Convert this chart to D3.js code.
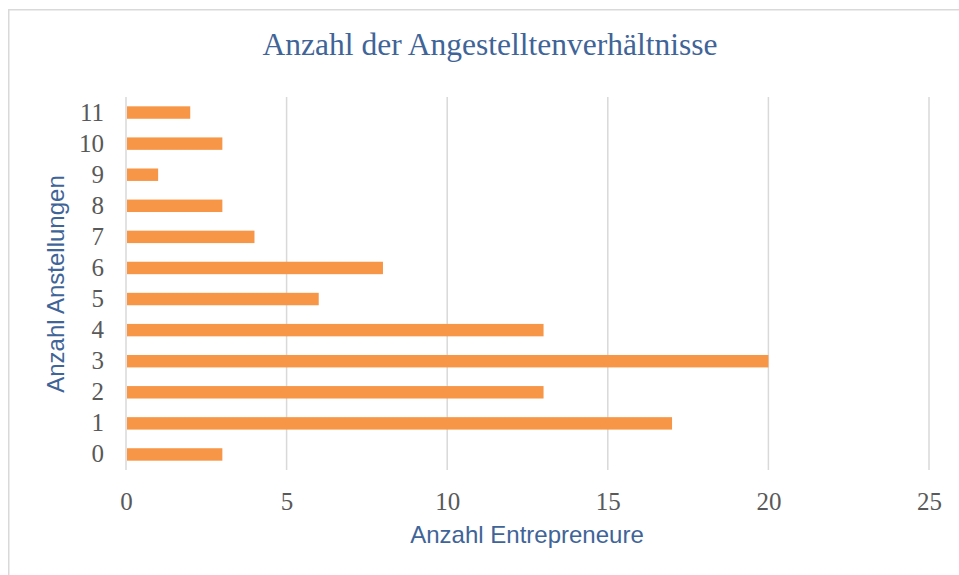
<!DOCTYPE html>
<html lang="de">
<head>
<meta charset="UTF-8">
<title>Anzahl der Angestelltenverhältnisse</title>
<style>
  body { margin: 0; background: #fff; }
</style>
</head>
<body>
<div id="chart"></div>
<script src="https://d3js.org/d3.v7.min.js"></script>
<script>
    // data
    var categories = ["0", "1", "2", "3", "4", "5", "6", "7", "8", "9", "10", "11"];
    var values = [3, 17, 13, 20, 13, 6, 8, 4, 3, 1, 3, 2];
    var xTicks = [0, 5, 10, 15, 20, 25];

    var W = 959, H = 575;
    var plot = {left: 126, right: 929, top: 97, bottom: 470};

    var svg = d3.select("#chart").append("svg")
        .attr("width", W)
        .attr("height", H);

    // chart border
    svg.append("rect")
        .attr("x", 8.75).attr("y", 9.75)
        .attr("width", W + 10).attr("height", H + 10)
        .attr("fill", "none")
        .attr("stroke", "#d9d9d9")
        .attr("stroke-width", 1.5);

    var x = d3.scaleLinear().domain([0, 25]).range([plot.left, plot.right]);
    var y = d3.scaleBand().domain(categories.slice().reverse())
        .range([plot.top, plot.bottom])
        .paddingInner(0.6).paddingOuter(0.3);

    // gridlines
    svg.append("g").selectAll("line")
        .data(xTicks).enter()
        .append("line")
        .attr("x1", function(d) { return x(d); })
        .attr("x2", function(d) { return x(d); })
        .attr("y1", plot.top)
        .attr("y2", plot.bottom)
        .attr("stroke", "#d9d9d9")
        .attr("stroke-width", 1.5);

    // bars
    svg.append("g").selectAll("rect")
        .data(values).enter()
        .append("rect")
        .attr("x", x(0) + 1)
        .attr("y", function(d, i) { return y(categories[i]); })
        .attr("width", function(d) { return x(d) - x(0) - 1; })
        .attr("height", y.bandwidth())
        .attr("fill", "#f79646");

    // x axis
    var xAxis = svg.append("g")
        .attr("transform", "translate(0," + (plot.bottom + 31) + ")")
        .call(d3.axisBottom(x).tickValues(xTicks).tickSize(0).tickPadding(0));
    xAxis.select(".domain").remove();
    xAxis.selectAll("text")
        .attr("dy", "0.35em")
        .style("font-family", "'Liberation Serif', serif")
        .style("font-size", "25px")
        .attr("fill", "#595959");

    // y axis
    var yAxis = svg.append("g")
        .attr("transform", "translate(" + (plot.left - 22) + ",0)")
        .call(d3.axisLeft(y).tickSize(0).tickPadding(0));
    yAxis.select(".domain").remove();
    yAxis.selectAll("text")
        .style("font-family", "'Liberation Serif', serif")
        .style("font-size", "25px")
        .attr("fill", "#595959");

    // title
    svg.append("text")
        .attr("x", 490).attr("y", 48)
        .attr("text-anchor", "middle")
        .attr("dominant-baseline", "middle")
        .style("font-family", "'Liberation Serif', serif")
        .style("font-size", "31.5px")
        .attr("fill", "#3f6498")
        .text("Anzahl der Angestelltenverhältnisse");

    // axis titles
    svg.append("text")
        .attr("x", 527).attr("y", 537)
        .attr("text-anchor", "middle")
        .attr("dominant-baseline", "middle")
        .style("font-family", "'Liberation Sans', Arial, sans-serif")
        .style("font-size", "24px")
        .attr("fill", "#3f6498")
        .text("Anzahl Entrepreneure");

    svg.append("text")
        .attr("transform", "translate(58,284) rotate(-90)")
        .attr("text-anchor", "middle")
        .attr("dominant-baseline", "middle")
        .style("font-family", "'Liberation Sans', Arial, sans-serif")
        .style("font-size", "24px")
        .attr("fill", "#3f6498")
        .text("Anzahl Anstellungen");
</script>
</body>
</html>
